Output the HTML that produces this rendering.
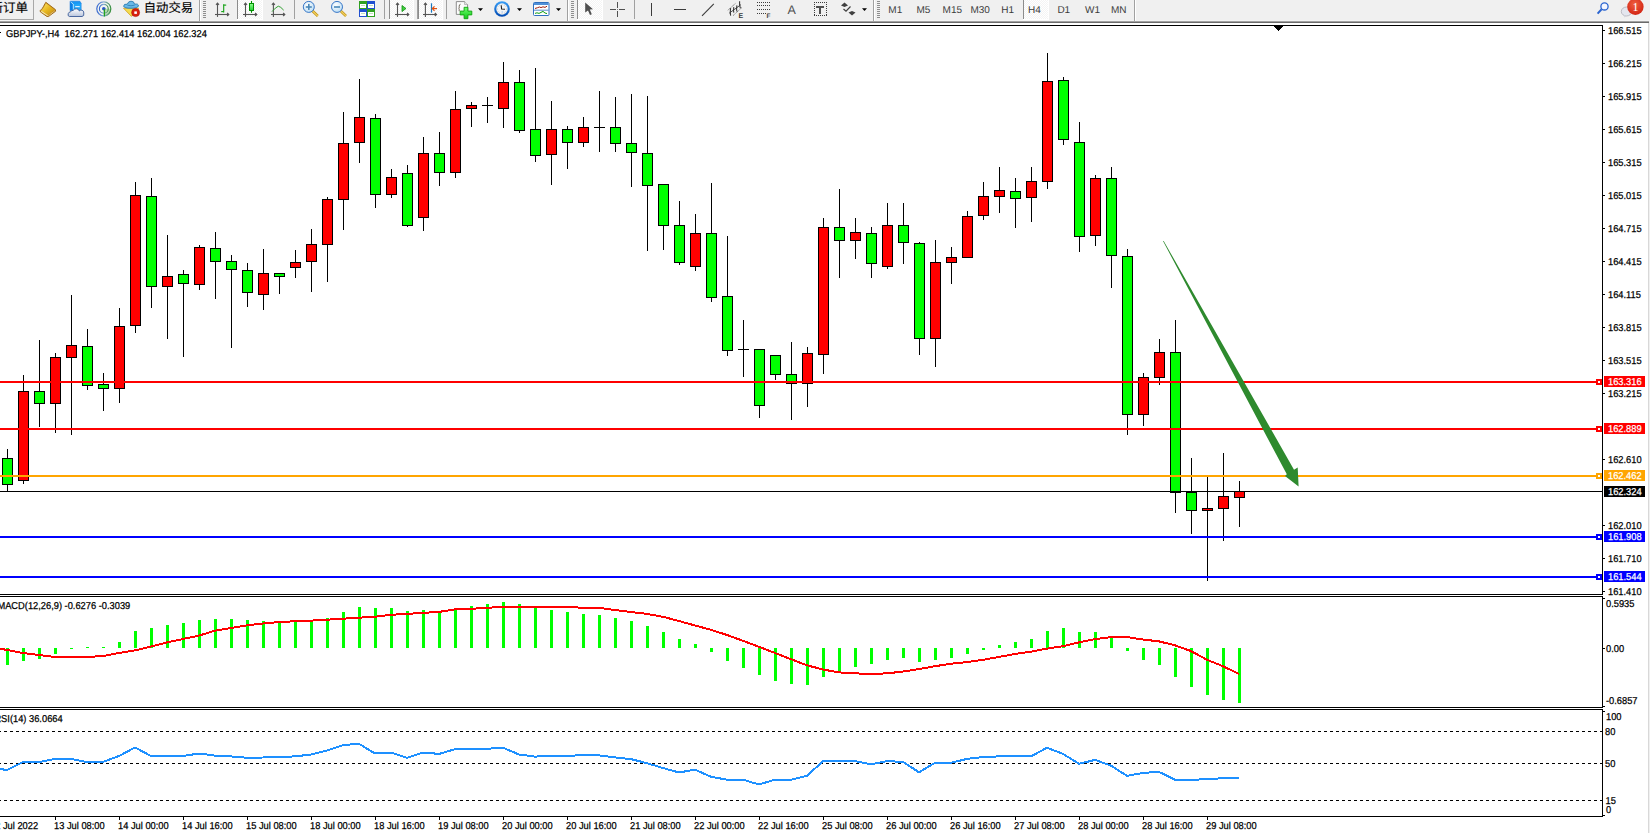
<!DOCTYPE html>
<html><head><meta charset="utf-8"><title>GBPJPY H4</title>
<style>
html,body{margin:0;padding:0;width:1650px;height:833px;overflow:hidden;background:#fff;}
svg{display:block;}
text{font-family:"Liberation Sans", "Noto Sans CJK SC", sans-serif;text-rendering:geometricPrecision;}
</style></head>
<body>
<svg width="1650" height="833" viewBox="0 0 1650 833" shape-rendering="crispEdges">
<rect x="0" y="0" width="1650" height="833" fill="#ffffff"/>
<rect x="0" y="0" width="1650" height="21" fill="#f0f0f0"/>
<rect x="0" y="20" width="1650" height="1" fill="#f4f4f4"/>
<rect x="0" y="21" width="1650" height="1" fill="#a2a2a2"/>
<rect x="0" y="22" width="1650" height="1" fill="#6b6b6b"/>
<rect x="1648" y="23" width="1" height="810" fill="#d8d8d8"/>
<rect x="1649" y="21" width="1" height="812" fill="#f0f0f0"/>
<rect x="0" y="25" width="1603" height="1" fill="#000"/>
<rect x="0" y="594" width="1603" height="1" fill="#000"/>
<rect x="1602" y="25" width="1" height="570" fill="#000"/>
<rect x="0" y="596" width="1603" height="1" fill="#000"/>
<rect x="0" y="707" width="1603" height="1" fill="#000"/>
<rect x="1602" y="596" width="1" height="112" fill="#000"/>
<rect x="0" y="709" width="1603" height="1" fill="#000"/>
<rect x="0" y="816" width="1603" height="1" fill="#000"/>
<rect x="1602" y="709" width="1" height="108" fill="#000"/>
<rect x="1603" y="30" width="2" height="1" fill="#000"/>
<text transform="translate(1608,34) scale(0.93,1)" fill="#000" stroke="#000" stroke-width="0.25" font-size="10">166.515</text>
<rect x="1603" y="63" width="2" height="1" fill="#000"/>
<text transform="translate(1608,67) scale(0.93,1)" fill="#000" stroke="#000" stroke-width="0.25" font-size="10">166.215</text>
<rect x="1603" y="96" width="2" height="1" fill="#000"/>
<text transform="translate(1608,100) scale(0.93,1)" fill="#000" stroke="#000" stroke-width="0.25" font-size="10">165.915</text>
<rect x="1603" y="129" width="2" height="1" fill="#000"/>
<text transform="translate(1608,133) scale(0.93,1)" fill="#000" stroke="#000" stroke-width="0.25" font-size="10">165.615</text>
<rect x="1603" y="162" width="2" height="1" fill="#000"/>
<text transform="translate(1608,166) scale(0.93,1)" fill="#000" stroke="#000" stroke-width="0.25" font-size="10">165.315</text>
<rect x="1603" y="195" width="2" height="1" fill="#000"/>
<text transform="translate(1608,199) scale(0.93,1)" fill="#000" stroke="#000" stroke-width="0.25" font-size="10">165.015</text>
<rect x="1603" y="228" width="2" height="1" fill="#000"/>
<text transform="translate(1608,232) scale(0.93,1)" fill="#000" stroke="#000" stroke-width="0.25" font-size="10">164.715</text>
<rect x="1603" y="261" width="2" height="1" fill="#000"/>
<text transform="translate(1608,265) scale(0.93,1)" fill="#000" stroke="#000" stroke-width="0.25" font-size="10">164.415</text>
<rect x="1603" y="294" width="2" height="1" fill="#000"/>
<text transform="translate(1608,298) scale(0.93,1)" fill="#000" stroke="#000" stroke-width="0.25" font-size="10">164.115</text>
<rect x="1603" y="327" width="2" height="1" fill="#000"/>
<text transform="translate(1608,331) scale(0.93,1)" fill="#000" stroke="#000" stroke-width="0.25" font-size="10">163.815</text>
<rect x="1603" y="360" width="2" height="1" fill="#000"/>
<text transform="translate(1608,364) scale(0.93,1)" fill="#000" stroke="#000" stroke-width="0.25" font-size="10">163.515</text>
<rect x="1603" y="393" width="2" height="1" fill="#000"/>
<text transform="translate(1608,397) scale(0.93,1)" fill="#000" stroke="#000" stroke-width="0.25" font-size="10">163.215</text>
<rect x="1603" y="459" width="2" height="1" fill="#000"/>
<text transform="translate(1608,463) scale(0.93,1)" fill="#000" stroke="#000" stroke-width="0.25" font-size="10">162.610</text>
<rect x="1603" y="525" width="2" height="1" fill="#000"/>
<text transform="translate(1608,529) scale(0.93,1)" fill="#000" stroke="#000" stroke-width="0.25" font-size="10">162.010</text>
<rect x="1603" y="558" width="2" height="1" fill="#000"/>
<text transform="translate(1608,562) scale(0.93,1)" fill="#000" stroke="#000" stroke-width="0.25" font-size="10">161.710</text>
<rect x="1603" y="591" width="2" height="1" fill="#000"/>
<text transform="translate(1608,595) scale(0.93,1)" fill="#000" stroke="#000" stroke-width="0.25" font-size="10">161.410</text>
<rect x="7" y="449" width="1" height="42" fill="#000"/>
<rect x="2" y="458" width="11" height="27" fill="#000"/>
<rect x="3" y="459" width="9" height="25" fill="#00ff00"/>
<rect x="23" y="375" width="1" height="109" fill="#000"/>
<rect x="18" y="391" width="11" height="90" fill="#000"/>
<rect x="19" y="392" width="9" height="88" fill="#ff0000"/>
<rect x="39" y="340" width="1" height="87" fill="#000"/>
<rect x="34" y="391" width="11" height="13" fill="#000"/>
<rect x="35" y="392" width="9" height="11" fill="#00ff00"/>
<rect x="55" y="353" width="1" height="80" fill="#000"/>
<rect x="50" y="357" width="11" height="47" fill="#000"/>
<rect x="51" y="358" width="9" height="45" fill="#ff0000"/>
<rect x="71" y="295" width="1" height="140" fill="#000"/>
<rect x="66" y="345" width="11" height="13" fill="#000"/>
<rect x="67" y="346" width="9" height="11" fill="#ff0000"/>
<rect x="87" y="329" width="1" height="61" fill="#000"/>
<rect x="82" y="346" width="11" height="40" fill="#000"/>
<rect x="83" y="347" width="9" height="38" fill="#00ff00"/>
<rect x="103" y="373" width="1" height="38" fill="#000"/>
<rect x="98" y="384" width="11" height="5" fill="#000"/>
<rect x="99" y="385" width="9" height="3" fill="#00ff00"/>
<rect x="119" y="308" width="1" height="95" fill="#000"/>
<rect x="114" y="326" width="11" height="63" fill="#000"/>
<rect x="115" y="327" width="9" height="61" fill="#ff0000"/>
<rect x="135" y="182" width="1" height="151" fill="#000"/>
<rect x="130" y="195" width="11" height="131" fill="#000"/>
<rect x="131" y="196" width="9" height="129" fill="#ff0000"/>
<rect x="151" y="178" width="1" height="130" fill="#000"/>
<rect x="146" y="196" width="11" height="91" fill="#000"/>
<rect x="147" y="197" width="9" height="89" fill="#00ff00"/>
<rect x="167" y="235" width="1" height="104" fill="#000"/>
<rect x="162" y="276" width="11" height="11" fill="#000"/>
<rect x="163" y="277" width="9" height="9" fill="#ff0000"/>
<rect x="183" y="270" width="1" height="87" fill="#000"/>
<rect x="178" y="274" width="11" height="10" fill="#000"/>
<rect x="179" y="275" width="9" height="8" fill="#00ff00"/>
<rect x="199" y="245" width="1" height="45" fill="#000"/>
<rect x="194" y="247" width="11" height="38" fill="#000"/>
<rect x="195" y="248" width="9" height="36" fill="#ff0000"/>
<rect x="215" y="232" width="1" height="67" fill="#000"/>
<rect x="210" y="248" width="11" height="14" fill="#000"/>
<rect x="211" y="249" width="9" height="12" fill="#00ff00"/>
<rect x="231" y="255" width="1" height="93" fill="#000"/>
<rect x="226" y="261" width="11" height="9" fill="#000"/>
<rect x="227" y="262" width="9" height="7" fill="#00ff00"/>
<rect x="247" y="263" width="1" height="44" fill="#000"/>
<rect x="242" y="270" width="11" height="23" fill="#000"/>
<rect x="243" y="271" width="9" height="21" fill="#00ff00"/>
<rect x="263" y="249" width="1" height="61" fill="#000"/>
<rect x="258" y="273" width="11" height="22" fill="#000"/>
<rect x="259" y="274" width="9" height="20" fill="#ff0000"/>
<rect x="279" y="273" width="1" height="21" fill="#000"/>
<rect x="274" y="273" width="11" height="4" fill="#000"/>
<rect x="275" y="274" width="9" height="2" fill="#00ff00"/>
<rect x="295" y="250" width="1" height="28" fill="#000"/>
<rect x="290" y="262" width="11" height="6" fill="#000"/>
<rect x="291" y="263" width="9" height="4" fill="#ff0000"/>
<rect x="311" y="229" width="1" height="63" fill="#000"/>
<rect x="306" y="244" width="11" height="18" fill="#000"/>
<rect x="307" y="245" width="9" height="16" fill="#ff0000"/>
<rect x="327" y="197" width="1" height="85" fill="#000"/>
<rect x="322" y="199" width="11" height="46" fill="#000"/>
<rect x="323" y="200" width="9" height="44" fill="#ff0000"/>
<rect x="343" y="112" width="1" height="118" fill="#000"/>
<rect x="338" y="143" width="11" height="57" fill="#000"/>
<rect x="339" y="144" width="9" height="55" fill="#ff0000"/>
<rect x="359" y="79" width="1" height="84" fill="#000"/>
<rect x="354" y="117" width="11" height="26" fill="#000"/>
<rect x="355" y="118" width="9" height="24" fill="#ff0000"/>
<rect x="375" y="114" width="1" height="94" fill="#000"/>
<rect x="370" y="118" width="11" height="77" fill="#000"/>
<rect x="371" y="119" width="9" height="75" fill="#00ff00"/>
<rect x="391" y="169" width="1" height="29" fill="#000"/>
<rect x="386" y="177" width="11" height="18" fill="#000"/>
<rect x="387" y="178" width="9" height="16" fill="#ff0000"/>
<rect x="407" y="165" width="1" height="62" fill="#000"/>
<rect x="402" y="173" width="11" height="53" fill="#000"/>
<rect x="403" y="174" width="9" height="51" fill="#00ff00"/>
<rect x="423" y="137" width="1" height="94" fill="#000"/>
<rect x="418" y="153" width="11" height="65" fill="#000"/>
<rect x="419" y="154" width="9" height="63" fill="#ff0000"/>
<rect x="439" y="132" width="1" height="54" fill="#000"/>
<rect x="434" y="153" width="11" height="20" fill="#000"/>
<rect x="435" y="154" width="9" height="18" fill="#00ff00"/>
<rect x="455" y="91" width="1" height="87" fill="#000"/>
<rect x="450" y="109" width="11" height="64" fill="#000"/>
<rect x="451" y="110" width="9" height="62" fill="#ff0000"/>
<rect x="471" y="102" width="1" height="25" fill="#000"/>
<rect x="466" y="105" width="11" height="4" fill="#000"/>
<rect x="467" y="106" width="9" height="2" fill="#ff0000"/>
<rect x="487" y="97" width="1" height="26" fill="#000"/>
<rect x="482" y="105" width="11" height="1" fill="#000"/>
<rect x="503" y="62" width="1" height="66" fill="#000"/>
<rect x="498" y="82" width="11" height="27" fill="#000"/>
<rect x="499" y="83" width="9" height="25" fill="#ff0000"/>
<rect x="519" y="70" width="1" height="63" fill="#000"/>
<rect x="514" y="82" width="11" height="49" fill="#000"/>
<rect x="515" y="83" width="9" height="47" fill="#00ff00"/>
<rect x="535" y="68" width="1" height="94" fill="#000"/>
<rect x="530" y="129" width="11" height="27" fill="#000"/>
<rect x="531" y="130" width="9" height="25" fill="#00ff00"/>
<rect x="551" y="101" width="1" height="84" fill="#000"/>
<rect x="546" y="129" width="11" height="26" fill="#000"/>
<rect x="547" y="130" width="9" height="24" fill="#ff0000"/>
<rect x="567" y="126" width="1" height="43" fill="#000"/>
<rect x="562" y="129" width="11" height="14" fill="#000"/>
<rect x="563" y="130" width="9" height="12" fill="#00ff00"/>
<rect x="583" y="117" width="1" height="30" fill="#000"/>
<rect x="578" y="127" width="11" height="16" fill="#000"/>
<rect x="579" y="128" width="9" height="14" fill="#ff0000"/>
<rect x="599" y="91" width="1" height="61" fill="#000"/>
<rect x="594" y="127" width="11" height="1" fill="#000"/>
<rect x="615" y="97" width="1" height="55" fill="#000"/>
<rect x="610" y="127" width="11" height="17" fill="#000"/>
<rect x="611" y="128" width="9" height="15" fill="#00ff00"/>
<rect x="631" y="94" width="1" height="93" fill="#000"/>
<rect x="626" y="143" width="11" height="10" fill="#000"/>
<rect x="627" y="144" width="9" height="8" fill="#00ff00"/>
<rect x="647" y="96" width="1" height="155" fill="#000"/>
<rect x="642" y="153" width="11" height="33" fill="#000"/>
<rect x="643" y="154" width="9" height="31" fill="#00ff00"/>
<rect x="663" y="184" width="1" height="66" fill="#000"/>
<rect x="658" y="184" width="11" height="42" fill="#000"/>
<rect x="659" y="185" width="9" height="40" fill="#00ff00"/>
<rect x="679" y="201" width="1" height="64" fill="#000"/>
<rect x="674" y="225" width="11" height="38" fill="#000"/>
<rect x="675" y="226" width="9" height="36" fill="#00ff00"/>
<rect x="695" y="214" width="1" height="57" fill="#000"/>
<rect x="690" y="233" width="11" height="34" fill="#000"/>
<rect x="691" y="234" width="9" height="32" fill="#ff0000"/>
<rect x="711" y="183" width="1" height="119" fill="#000"/>
<rect x="706" y="233" width="11" height="65" fill="#000"/>
<rect x="707" y="234" width="9" height="63" fill="#00ff00"/>
<rect x="727" y="236" width="1" height="120" fill="#000"/>
<rect x="722" y="296" width="11" height="55" fill="#000"/>
<rect x="723" y="297" width="9" height="53" fill="#00ff00"/>
<rect x="743" y="320" width="1" height="57" fill="#000"/>
<rect x="738" y="349" width="11" height="1" fill="#000"/>
<rect x="759" y="349" width="1" height="69" fill="#000"/>
<rect x="754" y="349" width="11" height="57" fill="#000"/>
<rect x="755" y="350" width="9" height="55" fill="#00ff00"/>
<rect x="775" y="355" width="1" height="25" fill="#000"/>
<rect x="770" y="355" width="11" height="20" fill="#000"/>
<rect x="771" y="356" width="9" height="18" fill="#00ff00"/>
<rect x="791" y="342" width="1" height="78" fill="#000"/>
<rect x="786" y="374" width="11" height="10" fill="#000"/>
<rect x="787" y="375" width="9" height="8" fill="#00ff00"/>
<rect x="807" y="347" width="1" height="60" fill="#000"/>
<rect x="802" y="353" width="11" height="31" fill="#000"/>
<rect x="803" y="354" width="9" height="29" fill="#ff0000"/>
<rect x="823" y="218" width="1" height="156" fill="#000"/>
<rect x="818" y="227" width="11" height="128" fill="#000"/>
<rect x="819" y="228" width="9" height="126" fill="#ff0000"/>
<rect x="839" y="189" width="1" height="89" fill="#000"/>
<rect x="834" y="227" width="11" height="14" fill="#000"/>
<rect x="835" y="228" width="9" height="12" fill="#00ff00"/>
<rect x="855" y="218" width="1" height="41" fill="#000"/>
<rect x="850" y="232" width="11" height="9" fill="#000"/>
<rect x="851" y="233" width="9" height="7" fill="#ff0000"/>
<rect x="871" y="227" width="1" height="51" fill="#000"/>
<rect x="866" y="233" width="11" height="31" fill="#000"/>
<rect x="867" y="234" width="9" height="29" fill="#00ff00"/>
<rect x="887" y="203" width="1" height="66" fill="#000"/>
<rect x="882" y="225" width="11" height="42" fill="#000"/>
<rect x="883" y="226" width="9" height="40" fill="#ff0000"/>
<rect x="903" y="203" width="1" height="61" fill="#000"/>
<rect x="898" y="225" width="11" height="18" fill="#000"/>
<rect x="899" y="226" width="9" height="16" fill="#00ff00"/>
<rect x="919" y="242" width="1" height="113" fill="#000"/>
<rect x="914" y="243" width="11" height="96" fill="#000"/>
<rect x="915" y="244" width="9" height="94" fill="#00ff00"/>
<rect x="935" y="240" width="1" height="127" fill="#000"/>
<rect x="930" y="262" width="11" height="77" fill="#000"/>
<rect x="931" y="263" width="9" height="75" fill="#ff0000"/>
<rect x="951" y="247" width="1" height="37" fill="#000"/>
<rect x="946" y="257" width="11" height="6" fill="#000"/>
<rect x="947" y="258" width="9" height="4" fill="#ff0000"/>
<rect x="967" y="211" width="1" height="46" fill="#000"/>
<rect x="962" y="216" width="11" height="42" fill="#000"/>
<rect x="963" y="217" width="9" height="40" fill="#ff0000"/>
<rect x="983" y="182" width="1" height="38" fill="#000"/>
<rect x="978" y="196" width="11" height="20" fill="#000"/>
<rect x="979" y="197" width="9" height="18" fill="#ff0000"/>
<rect x="999" y="167" width="1" height="46" fill="#000"/>
<rect x="994" y="190" width="11" height="7" fill="#000"/>
<rect x="995" y="191" width="9" height="5" fill="#ff0000"/>
<rect x="1015" y="178" width="1" height="50" fill="#000"/>
<rect x="1010" y="191" width="11" height="8" fill="#000"/>
<rect x="1011" y="192" width="9" height="6" fill="#00ff00"/>
<rect x="1031" y="167" width="1" height="55" fill="#000"/>
<rect x="1026" y="181" width="11" height="17" fill="#000"/>
<rect x="1027" y="182" width="9" height="15" fill="#ff0000"/>
<rect x="1047" y="53" width="1" height="136" fill="#000"/>
<rect x="1042" y="81" width="11" height="101" fill="#000"/>
<rect x="1043" y="82" width="9" height="99" fill="#ff0000"/>
<rect x="1063" y="77" width="1" height="68" fill="#000"/>
<rect x="1058" y="80" width="11" height="60" fill="#000"/>
<rect x="1059" y="81" width="9" height="58" fill="#00ff00"/>
<rect x="1079" y="122" width="1" height="130" fill="#000"/>
<rect x="1074" y="142" width="11" height="95" fill="#000"/>
<rect x="1075" y="143" width="9" height="93" fill="#00ff00"/>
<rect x="1095" y="175" width="1" height="71" fill="#000"/>
<rect x="1090" y="178" width="11" height="58" fill="#000"/>
<rect x="1091" y="179" width="9" height="56" fill="#ff0000"/>
<rect x="1111" y="167" width="1" height="121" fill="#000"/>
<rect x="1106" y="178" width="11" height="78" fill="#000"/>
<rect x="1107" y="179" width="9" height="76" fill="#00ff00"/>
<rect x="1127" y="249" width="1" height="186" fill="#000"/>
<rect x="1122" y="256" width="11" height="159" fill="#000"/>
<rect x="1123" y="257" width="9" height="157" fill="#00ff00"/>
<rect x="1143" y="373" width="1" height="53" fill="#000"/>
<rect x="1138" y="377" width="11" height="38" fill="#000"/>
<rect x="1139" y="378" width="9" height="36" fill="#ff0000"/>
<rect x="1159" y="339" width="1" height="46" fill="#000"/>
<rect x="1154" y="352" width="11" height="26" fill="#000"/>
<rect x="1155" y="353" width="9" height="24" fill="#ff0000"/>
<rect x="1175" y="320" width="1" height="193" fill="#000"/>
<rect x="1170" y="352" width="11" height="141" fill="#000"/>
<rect x="1171" y="353" width="9" height="139" fill="#00ff00"/>
<rect x="1191" y="458" width="1" height="76" fill="#000"/>
<rect x="1186" y="492" width="11" height="19" fill="#000"/>
<rect x="1187" y="493" width="9" height="17" fill="#00ff00"/>
<rect x="1207" y="477" width="1" height="104" fill="#000"/>
<rect x="1202" y="508" width="11" height="3" fill="#000"/>
<rect x="1203" y="509" width="9" height="1" fill="#ff0000"/>
<rect x="1223" y="453" width="1" height="88" fill="#000"/>
<rect x="1218" y="496" width="11" height="13" fill="#000"/>
<rect x="1219" y="497" width="9" height="11" fill="#ff0000"/>
<rect x="1239" y="481" width="1" height="46" fill="#000"/>
<rect x="1234" y="491" width="11" height="7" fill="#000"/>
<rect x="1235" y="492" width="9" height="5" fill="#ff0000"/>
<rect x="0" y="491" width="1602" height="1" fill="#000"/>
<rect x="0" y="381" width="1602" height="2" fill="#ff0000"/>
<rect x="1596" y="379" width="6" height="6" fill="#ff0000"/>
<rect x="1598" y="381" width="2" height="2" fill="#fff"/>
<rect x="1604" y="376" width="41" height="11" fill="#ff0000"/>
<text transform="translate(1608,385) scale(0.93,1)" fill="#fff" stroke="#fff" stroke-width="0.25" font-size="10">163.316</text>
<rect x="0" y="428" width="1602" height="2" fill="#ff0000"/>
<rect x="1596" y="426" width="6" height="6" fill="#ff0000"/>
<rect x="1598" y="428" width="2" height="2" fill="#fff"/>
<rect x="1604" y="423" width="41" height="11" fill="#ff0000"/>
<text transform="translate(1608,432) scale(0.93,1)" fill="#fff" stroke="#fff" stroke-width="0.25" font-size="10">162.889</text>
<rect x="0" y="475" width="1602" height="2" fill="#ffa500"/>
<rect x="1596" y="473" width="6" height="6" fill="#ffa500"/>
<rect x="1598" y="475" width="2" height="2" fill="#fff"/>
<rect x="1604" y="470" width="41" height="11" fill="#ffa500"/>
<text transform="translate(1608,479) scale(0.93,1)" fill="#fff" stroke="#fff" stroke-width="0.25" font-size="10">162.462</text>
<rect x="0" y="536" width="1602" height="2" fill="#0000ff"/>
<rect x="1596" y="534" width="6" height="6" fill="#0000ff"/>
<rect x="1598" y="536" width="2" height="2" fill="#fff"/>
<rect x="1604" y="531" width="41" height="11" fill="#0000ff"/>
<text transform="translate(1608,540) scale(0.93,1)" fill="#fff" stroke="#fff" stroke-width="0.25" font-size="10">161.908</text>
<rect x="0" y="576" width="1602" height="2" fill="#0000ff"/>
<rect x="1596" y="574" width="6" height="6" fill="#0000ff"/>
<rect x="1598" y="576" width="2" height="2" fill="#fff"/>
<rect x="1604" y="571" width="41" height="11" fill="#0000ff"/>
<text transform="translate(1608,580) scale(0.93,1)" fill="#fff" stroke="#fff" stroke-width="0.25" font-size="10">161.544</text>
<rect x="1604" y="486" width="41" height="11" fill="#000"/>
<text transform="translate(1608,495) scale(0.93,1)" fill="#fff" stroke="#fff" stroke-width="0.25" font-size="10">162.324</text>
<polygon points="1163.0,241 1163.7,241 1294,469.7 1297.7,467.5 1298.6,486.5 1285,476 1286.8,474.3" fill="#2e8a2e" shape-rendering="auto"/>
<rect x="1274" y="26" width="9" height="1" fill="#000"/>
<rect x="1275" y="27" width="7" height="1" fill="#000"/>
<rect x="1276" y="28" width="5" height="1" fill="#000"/>
<rect x="1277" y="29" width="3" height="1" fill="#000"/>
<rect x="1278" y="30" width="1" height="1" fill="#000"/>
<rect x="0" y="32" width="1" height="1" fill="#000"/>
<text transform="translate(6,37) scale(0.93,1)" fill="#000" stroke="#000" stroke-width="0.25" font-size="10">GBPJPY-,H4&#160;&#160;162.271 162.414 162.004 162.324</text>
<rect x="6" y="648" width="3" height="17" fill="#00ff00"/>
<rect x="22" y="648" width="3" height="13" fill="#00ff00"/>
<rect x="38" y="648" width="3" height="11" fill="#00ff00"/>
<rect x="54" y="648" width="3" height="6" fill="#00ff00"/>
<rect x="70" y="648" width="3" height="1" fill="#00ff00"/>
<rect x="86" y="647" width="3" height="1" fill="#00ff00"/>
<rect x="102" y="647" width="3" height="1" fill="#00ff00"/>
<rect x="118" y="642" width="3" height="6" fill="#00ff00"/>
<rect x="134" y="631" width="3" height="17" fill="#00ff00"/>
<rect x="150" y="628" width="3" height="20" fill="#00ff00"/>
<rect x="166" y="625" width="3" height="23" fill="#00ff00"/>
<rect x="182" y="623" width="3" height="25" fill="#00ff00"/>
<rect x="198" y="620" width="3" height="28" fill="#00ff00"/>
<rect x="214" y="619" width="3" height="29" fill="#00ff00"/>
<rect x="230" y="619" width="3" height="29" fill="#00ff00"/>
<rect x="246" y="620" width="3" height="28" fill="#00ff00"/>
<rect x="262" y="621" width="3" height="27" fill="#00ff00"/>
<rect x="278" y="622" width="3" height="26" fill="#00ff00"/>
<rect x="294" y="622" width="3" height="26" fill="#00ff00"/>
<rect x="310" y="621" width="3" height="27" fill="#00ff00"/>
<rect x="326" y="618" width="3" height="30" fill="#00ff00"/>
<rect x="342" y="612" width="3" height="36" fill="#00ff00"/>
<rect x="358" y="607" width="3" height="41" fill="#00ff00"/>
<rect x="374" y="608" width="3" height="40" fill="#00ff00"/>
<rect x="390" y="608" width="3" height="40" fill="#00ff00"/>
<rect x="406" y="611" width="3" height="37" fill="#00ff00"/>
<rect x="422" y="610" width="3" height="38" fill="#00ff00"/>
<rect x="438" y="611" width="3" height="37" fill="#00ff00"/>
<rect x="454" y="608" width="3" height="40" fill="#00ff00"/>
<rect x="470" y="606" width="3" height="42" fill="#00ff00"/>
<rect x="486" y="604" width="3" height="44" fill="#00ff00"/>
<rect x="502" y="602" width="3" height="46" fill="#00ff00"/>
<rect x="518" y="604" width="3" height="44" fill="#00ff00"/>
<rect x="534" y="607" width="3" height="41" fill="#00ff00"/>
<rect x="550" y="610" width="3" height="38" fill="#00ff00"/>
<rect x="566" y="612" width="3" height="36" fill="#00ff00"/>
<rect x="582" y="614" width="3" height="34" fill="#00ff00"/>
<rect x="598" y="615" width="3" height="33" fill="#00ff00"/>
<rect x="614" y="618" width="3" height="30" fill="#00ff00"/>
<rect x="630" y="621" width="3" height="27" fill="#00ff00"/>
<rect x="646" y="626" width="3" height="22" fill="#00ff00"/>
<rect x="662" y="632" width="3" height="16" fill="#00ff00"/>
<rect x="678" y="639" width="3" height="9" fill="#00ff00"/>
<rect x="694" y="644" width="3" height="4" fill="#00ff00"/>
<rect x="710" y="648" width="3" height="4" fill="#00ff00"/>
<rect x="726" y="648" width="3" height="13" fill="#00ff00"/>
<rect x="742" y="648" width="3" height="20" fill="#00ff00"/>
<rect x="758" y="648" width="3" height="27" fill="#00ff00"/>
<rect x="774" y="648" width="3" height="33" fill="#00ff00"/>
<rect x="790" y="648" width="3" height="36" fill="#00ff00"/>
<rect x="806" y="648" width="3" height="37" fill="#00ff00"/>
<rect x="822" y="648" width="3" height="29" fill="#00ff00"/>
<rect x="838" y="648" width="3" height="24" fill="#00ff00"/>
<rect x="854" y="648" width="3" height="19" fill="#00ff00"/>
<rect x="870" y="648" width="3" height="16" fill="#00ff00"/>
<rect x="886" y="648" width="3" height="12" fill="#00ff00"/>
<rect x="902" y="648" width="3" height="10" fill="#00ff00"/>
<rect x="918" y="648" width="3" height="14" fill="#00ff00"/>
<rect x="934" y="648" width="3" height="12" fill="#00ff00"/>
<rect x="950" y="648" width="3" height="10" fill="#00ff00"/>
<rect x="966" y="648" width="3" height="6" fill="#00ff00"/>
<rect x="982" y="648" width="3" height="2" fill="#00ff00"/>
<rect x="998" y="645" width="3" height="3" fill="#00ff00"/>
<rect x="1014" y="642" width="3" height="6" fill="#00ff00"/>
<rect x="1030" y="639" width="3" height="9" fill="#00ff00"/>
<rect x="1046" y="631" width="3" height="17" fill="#00ff00"/>
<rect x="1062" y="628" width="3" height="20" fill="#00ff00"/>
<rect x="1078" y="632" width="3" height="16" fill="#00ff00"/>
<rect x="1094" y="632" width="3" height="16" fill="#00ff00"/>
<rect x="1110" y="638" width="3" height="10" fill="#00ff00"/>
<rect x="1126" y="648" width="3" height="3" fill="#00ff00"/>
<rect x="1142" y="648" width="3" height="12" fill="#00ff00"/>
<rect x="1158" y="648" width="3" height="17" fill="#00ff00"/>
<rect x="1174" y="648" width="3" height="29" fill="#00ff00"/>
<rect x="1190" y="648" width="3" height="39" fill="#00ff00"/>
<rect x="1206" y="648" width="3" height="47" fill="#00ff00"/>
<rect x="1222" y="648" width="3" height="52" fill="#00ff00"/>
<rect x="1238" y="648" width="3" height="55" fill="#00ff00"/>
<polyline points="0,648.6 7,650 23,653 39,655 55,657 71,657 87,657 103,656 119,653 135,650.4 151,646.5 167,642.4 183,639 199,635.6 215,630.7 231,628 247,625.3 263,623.5 279,622 295,621.3 311,620.6 327,619.7 343,618.7 359,617.7 375,616.8 391,614.8 407,613.9 423,612.9 439,611.9 455,609.4 471,608.8 487,607.8 503,606.9 519,606.9 535,606.9 551,606.9 567,606.9 583,607.8 599,607.8 615,610 631,612 647,613.9 663,616.8 679,621 695,625.5 711,629.8 727,635 743,640.8 759,646.8 775,653 791,659.2 807,665.3 823,669.5 839,672.4 855,673.4 871,673.8 887,673.4 903,671.5 919,669.1 935,666.2 951,663.7 967,662.1 983,659.8 999,656.9 1015,654 1031,651.7 1047,648.6 1063,646.2 1079,642.4 1095,639.1 1111,637.1 1127,637.1 1143,639.5 1159,641.4 1175,645.3 1191,651.1 1207,659.8 1223,666.2 1239,674" fill="none" stroke="#ff0000" stroke-width="2" stroke-linejoin="round"/>
<text transform="translate(-2.6,609) scale(0.93,1)" fill="#000" stroke="#000" stroke-width="0.25" font-size="10">MACD(12,26,9) -0.6276 -0.3039</text>
<rect x="1603" y="598" width="2" height="1" fill="#000"/>
<rect x="1603" y="648" width="2" height="1" fill="#000"/>
<rect x="1603" y="706" width="2" height="1" fill="#000"/>
<text transform="translate(1606,606.5) scale(0.93,1)" fill="#000" stroke="#000" stroke-width="0.25" font-size="10">0.5935</text>
<text transform="translate(1606,651.5) scale(0.93,1)" fill="#000" stroke="#000" stroke-width="0.25" font-size="10">0.00</text>
<text transform="translate(1606,703.5) scale(0.93,1)" fill="#000" stroke="#000" stroke-width="0.25" font-size="10">-0.6857</text>
<line x1="0" y1="731.5" x2="1602" y2="731.5" stroke="#000" stroke-width="1" stroke-dasharray="3,3" stroke-dashoffset="2"/>
<line x1="0" y1="763.5" x2="1602" y2="763.5" stroke="#000" stroke-width="1" stroke-dasharray="3,3" stroke-dashoffset="2"/>
<line x1="0" y1="800.5" x2="1602" y2="800.5" stroke="#000" stroke-width="1" stroke-dasharray="3,3" stroke-dashoffset="2"/>
<polyline points="0,769 7,770 23,762 39,762 55,759 71,759 87,762 103,762 119,756 135,747.5 151,756 167,756 183,756 199,753.5 215,755.6 231,756.4 247,757.8 263,757.5 279,757 295,756.4 311,754.5 327,750.6 343,745.1 359,743.8 375,753.5 391,752.5 407,757.8 423,752.5 439,753.9 455,749.2 471,748.8 487,748.8 503,747.7 519,754.5 535,756.6 551,756 567,756 583,755 599,755.4 615,757.4 631,759.1 647,763.2 663,768 679,772.5 695,769.6 711,776.8 727,779.7 743,779.7 759,784.5 775,779.7 791,779.7 807,775.8 823,761.2 839,761.2 855,761.2 871,764.2 887,761.2 903,761.8 919,772.3 935,762.8 951,762.8 967,758.9 983,757 999,756.4 1015,756.4 1031,756.4 1047,747.7 1063,753.9 1079,763.8 1095,759.9 1111,765.7 1127,775.8 1143,772.9 1159,771.9 1175,779.7 1191,779.7 1207,779.3 1223,778.1 1239,777.7" fill="none" stroke="#1e90ff" stroke-width="2" stroke-linejoin="round"/>
<text transform="translate(-5.6,722) scale(0.93,1)" fill="#000" stroke="#000" stroke-width="0.25" font-size="10">RSI(14) 36.0664</text>
<rect x="1603" y="711" width="2" height="1" fill="#000"/>
<rect x="1603" y="815" width="2" height="1" fill="#000"/>
<text transform="translate(1606,720.3) scale(0.93,1)" fill="#000" stroke="#000" stroke-width="0.25" font-size="10">100</text>
<text transform="translate(1605,734.6) scale(0.93,1)" fill="#000" stroke="#000" stroke-width="0.25" font-size="10">80</text>
<text transform="translate(1605,767.2) scale(0.93,1)" fill="#000" stroke="#000" stroke-width="0.25" font-size="10">50</text>
<text transform="translate(1605.5,803.6) scale(0.93,1)" fill="#000" stroke="#000" stroke-width="0.25" font-size="10">15</text>
<text transform="translate(1606,813.2) scale(0.93,1)" fill="#000" stroke="#000" stroke-width="0.25" font-size="10">0</text>
<text transform="translate(-10,829) scale(0.93,1)" fill="#000" stroke="#000" stroke-width="0.25" font-size="10">12 Jul 2022</text>
<rect x="55" y="817" width="1" height="3" fill="#000"/>
<text transform="translate(54,829) scale(0.93,1)" fill="#000" stroke="#000" stroke-width="0.25" font-size="10">13 Jul 08:00</text>
<rect x="119" y="817" width="1" height="3" fill="#000"/>
<text transform="translate(118,829) scale(0.93,1)" fill="#000" stroke="#000" stroke-width="0.25" font-size="10">14 Jul 00:00</text>
<rect x="183" y="817" width="1" height="3" fill="#000"/>
<text transform="translate(182,829) scale(0.93,1)" fill="#000" stroke="#000" stroke-width="0.25" font-size="10">14 Jul 16:00</text>
<rect x="247" y="817" width="1" height="3" fill="#000"/>
<text transform="translate(246,829) scale(0.93,1)" fill="#000" stroke="#000" stroke-width="0.25" font-size="10">15 Jul 08:00</text>
<rect x="311" y="817" width="1" height="3" fill="#000"/>
<text transform="translate(310,829) scale(0.93,1)" fill="#000" stroke="#000" stroke-width="0.25" font-size="10">18 Jul 00:00</text>
<rect x="375" y="817" width="1" height="3" fill="#000"/>
<text transform="translate(374,829) scale(0.93,1)" fill="#000" stroke="#000" stroke-width="0.25" font-size="10">18 Jul 16:00</text>
<rect x="439" y="817" width="1" height="3" fill="#000"/>
<text transform="translate(438,829) scale(0.93,1)" fill="#000" stroke="#000" stroke-width="0.25" font-size="10">19 Jul 08:00</text>
<rect x="503" y="817" width="1" height="3" fill="#000"/>
<text transform="translate(502,829) scale(0.93,1)" fill="#000" stroke="#000" stroke-width="0.25" font-size="10">20 Jul 00:00</text>
<rect x="567" y="817" width="1" height="3" fill="#000"/>
<text transform="translate(566,829) scale(0.93,1)" fill="#000" stroke="#000" stroke-width="0.25" font-size="10">20 Jul 16:00</text>
<rect x="631" y="817" width="1" height="3" fill="#000"/>
<text transform="translate(630,829) scale(0.93,1)" fill="#000" stroke="#000" stroke-width="0.25" font-size="10">21 Jul 08:00</text>
<rect x="695" y="817" width="1" height="3" fill="#000"/>
<text transform="translate(694,829) scale(0.93,1)" fill="#000" stroke="#000" stroke-width="0.25" font-size="10">22 Jul 00:00</text>
<rect x="759" y="817" width="1" height="3" fill="#000"/>
<text transform="translate(758,829) scale(0.93,1)" fill="#000" stroke="#000" stroke-width="0.25" font-size="10">22 Jul 16:00</text>
<rect x="823" y="817" width="1" height="3" fill="#000"/>
<text transform="translate(822,829) scale(0.93,1)" fill="#000" stroke="#000" stroke-width="0.25" font-size="10">25 Jul 08:00</text>
<rect x="887" y="817" width="1" height="3" fill="#000"/>
<text transform="translate(886,829) scale(0.93,1)" fill="#000" stroke="#000" stroke-width="0.25" font-size="10">26 Jul 00:00</text>
<rect x="951" y="817" width="1" height="3" fill="#000"/>
<text transform="translate(950,829) scale(0.93,1)" fill="#000" stroke="#000" stroke-width="0.25" font-size="10">26 Jul 16:00</text>
<rect x="1015" y="817" width="1" height="3" fill="#000"/>
<text transform="translate(1014,829) scale(0.93,1)" fill="#000" stroke="#000" stroke-width="0.25" font-size="10">27 Jul 08:00</text>
<rect x="1079" y="817" width="1" height="3" fill="#000"/>
<text transform="translate(1078,829) scale(0.93,1)" fill="#000" stroke="#000" stroke-width="0.25" font-size="10">28 Jul 00:00</text>
<rect x="1143" y="817" width="1" height="3" fill="#000"/>
<text transform="translate(1142,829) scale(0.93,1)" fill="#000" stroke="#000" stroke-width="0.25" font-size="10">28 Jul 16:00</text>
<rect x="1207" y="817" width="1" height="3" fill="#000"/>
<text transform="translate(1206,829) scale(0.93,1)" fill="#000" stroke="#000" stroke-width="0.25" font-size="10">29 Jul 08:00</text>
<defs><pattern id="chk" width="2" height="2" patternUnits="userSpaceOnUse"><rect width="2" height="2" fill="#f4f4f4"/><rect width="1" height="1" fill="#ffffff"/><rect x="1" y="1" width="1" height="1" fill="#ffffff"/></pattern><linearGradient id="gold" x1="0" y1="0" x2="1" y2="1"><stop offset="0" stop-color="#ffe870"/><stop offset="0.5" stop-color="#e8b820"/><stop offset="1" stop-color="#c08a18"/></linearGradient><linearGradient id="cloud" x1="0" y1="0" x2="0" y2="1"><stop offset="0" stop-color="#ffffff"/><stop offset="1" stop-color="#b8c4dc"/></linearGradient><linearGradient id="lgreen" x1="0" y1="0" x2="0" y2="1"><stop offset="0" stop-color="#90ff90"/><stop offset="1" stop-color="#20d030"/></linearGradient><radialGradient id="badge" cx="0.45" cy="0.35" r="0.7"><stop offset="0" stop-color="#f06040"/><stop offset="1" stop-color="#d02010"/></radialGradient><radialGradient id="lens" cx="0.4" cy="0.35" r="0.7"><stop offset="0" stop-color="#ffffff"/><stop offset="1" stop-color="#b8dcf4"/></radialGradient><linearGradient id="clock" x1="0" y1="0" x2="0" y2="1"><stop offset="0" stop-color="#3aa0f8"/><stop offset="1" stop-color="#0048b0"/></linearGradient><linearGradient id="rg" x1="0" y1="0" x2="1" y2="0"><stop offset="0" stop-color="#3a68d0"/><stop offset="0.5" stop-color="#90b0d8"/><stop offset="1" stop-color="#3a9040"/></linearGradient><linearGradient id="plusg" x1="0" y1="0" x2="0" y2="1"><stop offset="0" stop-color="#70ff70"/><stop offset="1" stop-color="#10c818"/></linearGradient></defs>
<rect x="33" y="0" width="1" height="20" fill="#a8a8a8"/>
<rect x="0" y="19" width="34" height="1" fill="#a8a8a8"/>
<text x="-9.6" y="11.6" fill="#000" font-size="12.5" stroke="#000" stroke-width="0.15">新订单</text>
<g shape-rendering="auto">
<path d="M45.8,2.3 L55.4,9.6 L55.6,11.2 L48.4,16.6 L46.8,16.4 L40.3,11.8 L40.2,10.6 Q42.6,8.6 43.5,6.4 Z" fill="#c8901c" stroke="#9a6212" stroke-width="0.9"/>
<path d="M45.9,3.2 L54.6,9.8 L48,15 L41,10.4 Q43.3,8.4 44.3,6.4 Z" fill="url(#gold)"/>
<path d="M41.2,11.2 L47.8,15.6" fill="none" stroke="#f8e8a8" stroke-width="1.1"/>
<path d="M48.6,15.6 L55,10.6" fill="none" stroke="#f0e0b0" stroke-width="0.9" stroke-dasharray="1,0.6"/>
<path d="M70.1,1.2 L79.8,1.2 L81.1,3.2 L81.1,10.5 L70.1,10.5 Z" fill="#1898f4" stroke="#1070d8" stroke-width="0.6"/>
<path d="M70.1,1.6 L73.3,3.9 L73.3,10.5 L70.1,10.5 Z" fill="#0a7ee6"/>
<path d="M73.3,3.9 L81,3.6 L81,10.5 L73.3,10.5 Z" fill="#20a4f8"/>
<path d="M70.6,1.9 L73.3,4.1 L73.3,9.8" fill="none" stroke="#d8f2ff" stroke-width="0.8"/>
<rect x="75.2" y="6.1" width="4.5" height="1.1" fill="#f0f8ff"/>
<path d="M69.4,16.5 Q67.5,16.1 68.2,13.7 Q68.7,11.9 70.7,11.8 Q71.1,10.3 73.1,10.4 Q74.3,8.6 76.4,8.8 Q78.6,8.8 79.4,11 Q80.4,9.8 82,10.2 Q83.9,10.8 83.8,13 Q84.4,16.3 82,16.5 Z" fill="url(#cloud)" stroke="#3a5a96" stroke-width="0.9"/>
<circle cx="103.8" cy="8.8" r="7.6" fill="#f2f6f0"/>
<path d="M103.8,8.8 L111.4,8.8 A7.6,7.6 0 0 1 103.8,16.4 Z" fill="#b8dcb0"/>
<circle cx="103.8" cy="8.8" r="7" fill="none" stroke="url(#rg)" stroke-width="1.2"/>
<circle cx="103.8" cy="8.8" r="4.4" fill="none" stroke="url(#rg)" stroke-width="1.1"/>
<circle cx="103.8" cy="8.8" r="1.8" fill="#2a58c8"/>
<line x1="104.4" y1="9.2" x2="104.4" y2="16.5" stroke="#20a020" stroke-width="1.3"/>
<path d="M123.5,8.2 L138.7,8.2 L131.4,16.4 Z" fill="#f4dc50" stroke="#d0a020" stroke-width="0.8"/>
<path d="M123.6,6.2 Q123.8,3.6 127.2,4.2 Q128.5,1 131,1.2 Q134,1 134.6,4.2 Q138.6,3.4 138.4,6 Q137.6,8.4 131,8.2 Q124.4,8.4 123.6,6.2 Z" fill="#6ab8e8" stroke="#2a7cb0" stroke-width="0.9"/>
<path d="M127.4,5.2 Q131,6.4 134.6,5.2" fill="none" stroke="#2a7cb0" stroke-width="0.8"/>
<circle cx="135.6" cy="12.6" r="4" fill="#d82010" stroke="#b01000" stroke-width="0.6"/>
<rect x="134.3" y="11.4" width="2.6" height="2.5" fill="#fff"/>
</g>
<text x="143.8" y="12.2" fill="#000" font-size="12.3" stroke="#000" stroke-width="0.15">自动交易</text>
<rect x="199" y="0" width="1" height="21" fill="#a0a0a0"/>
<rect x="200" y="0" width="1" height="21" fill="#ffffff"/>
<rect x="203" y="1" width="3" height="1" fill="#8e8e8e"/>
<rect x="203" y="3" width="3" height="1" fill="#8e8e8e"/>
<rect x="203" y="5" width="3" height="1" fill="#8e8e8e"/>
<rect x="203" y="7" width="3" height="1" fill="#8e8e8e"/>
<rect x="203" y="9" width="3" height="1" fill="#8e8e8e"/>
<rect x="203" y="11" width="3" height="1" fill="#8e8e8e"/>
<rect x="203" y="13" width="3" height="1" fill="#8e8e8e"/>
<rect x="203" y="15" width="3" height="1" fill="#8e8e8e"/>
<rect x="203" y="17" width="3" height="1" fill="#8e8e8e"/>
<g stroke="#555" stroke-width="1.1" fill="none" shape-rendering="auto"><line x1="217.5" y1="3.2" x2="217.5" y2="16.9"/><line x1="215" y1="14.5" x2="228.8" y2="14.5"/><polyline points="216.0,4.9 217.5,3.2 219.0,4.9"/><polyline points="227.10000000000002,13.0 228.8,14.5 227.10000000000002,16.0"/></g>
<g stroke="#10a010" stroke-width="1.1" fill="none" shape-rendering="auto"><line x1="223.7" y1="4.2" x2="223.7" y2="12.6"/><line x1="223.7" y1="5.1" x2="226.2" y2="5.1"/><line x1="221.2" y1="11.6" x2="223.7" y2="11.6"/></g>
<rect x="237" y="0" width="1" height="19" fill="#8c8c8c"/>
<rect x="238" y="0" width="24" height="19" fill="url(#chk)"/>
<rect x="262" y="0" width="1" height="20" fill="#ffffff"/>
<rect x="237" y="19" width="26" height="1" fill="#ffffff"/>
<g stroke="#555" stroke-width="1.1" fill="none" shape-rendering="auto"><line x1="245.5" y1="3.2" x2="245.5" y2="16.9"/><line x1="243" y1="14.5" x2="256.8" y2="14.5"/><polyline points="244.0,4.9 245.5,3.2 247.0,4.9"/><polyline points="255.10000000000002,13.0 256.8,14.5 255.10000000000002,16.0"/></g>
<g shape-rendering="auto"><line x1="251.5" y1="1" x2="251.5" y2="12.8" stroke="#009000" stroke-width="1.1"/><rect x="249.5" y="3.5" width="4" height="7" fill="url(#lgreen)" stroke="#009000" stroke-width="1"/></g>
<g stroke="#555" stroke-width="1.1" fill="none" shape-rendering="auto"><line x1="273.4" y1="3.2" x2="273.4" y2="16.9"/><line x1="271" y1="14.5" x2="284.8" y2="14.5"/><polyline points="271.9,4.9 273.4,3.2 274.9,4.9"/><polyline points="283.1,13.0 284.8,14.5 283.1,16.0"/></g>
<path d="M272,11.6 Q275.5,7.5 278.3,6.2 Q280.5,6.5 283.7,10.2" fill="none" stroke="#30a030" stroke-width="1" shape-rendering="auto"/>
<rect x="294" y="0" width="1" height="19" fill="#a0a0a0"/>
<g shape-rendering="auto"><line x1="312.3" y1="10.8" x2="317.8" y2="16" stroke="#c09010" stroke-width="2.6"/><line x1="312.3" y1="10.8" x2="317.8" y2="16" stroke="#f0d060" stroke-width="1.2"/><circle cx="308.8" cy="6.9" r="5.5" fill="url(#lens)" stroke="#3a78c8" stroke-width="1"/><rect x="305.8" y="6.2" width="6" height="1.6" fill="#4a88b8"/><rect x="308.0" y="3.9" width="1.6" height="6" fill="#4a88b8"/></g>
<g shape-rendering="auto"><line x1="340.5" y1="10.8" x2="346" y2="16" stroke="#c09010" stroke-width="2.6"/><line x1="340.5" y1="10.8" x2="346" y2="16" stroke="#f0d060" stroke-width="1.2"/><circle cx="337" cy="6.9" r="5.5" fill="url(#lens)" stroke="#3a78c8" stroke-width="1"/><rect x="334" y="6.2" width="6" height="1.6" fill="#4a88b8"/></g>
<rect x="359" y="1" width="8" height="8" fill="#30a020"/>
<rect x="360" y="4" width="6" height="4" fill="#ffffff"/>
<rect x="361" y="5" width="4" height="1" fill="#c0e0c0"/>
<rect x="367" y="1" width="8" height="8" fill="#2050d0"/>
<rect x="368" y="4" width="6" height="4" fill="#ffffff"/>
<rect x="369" y="5" width="4" height="1" fill="#c0e0c0"/>
<rect x="359" y="9" width="8" height="8" fill="#2050d0"/>
<rect x="360" y="12" width="6" height="4" fill="#ffffff"/>
<rect x="361" y="13" width="4" height="1" fill="#c0e0c0"/>
<rect x="367" y="9" width="8" height="8" fill="#30a020"/>
<rect x="368" y="12" width="6" height="4" fill="#ffffff"/>
<rect x="369" y="13" width="4" height="1" fill="#c0e0c0"/>
<rect x="384" y="0" width="1" height="19" fill="#a0a0a0"/>
<rect x="389" y="0" width="1" height="19" fill="#8c8c8c"/>
<rect x="390" y="0" width="23" height="19" fill="url(#chk)"/>
<rect x="413" y="0" width="1" height="20" fill="#ffffff"/>
<rect x="389" y="19" width="25" height="1" fill="#ffffff"/>
<g stroke="#555" stroke-width="1.1" fill="none" shape-rendering="auto"><line x1="397.5" y1="3.2" x2="397.5" y2="16.9"/><line x1="395" y1="14.5" x2="408.8" y2="14.5"/><polyline points="396.0,4.9 397.5,3.2 399.0,4.9"/><polyline points="407.1,13.0 408.8,14.5 407.1,16.0"/></g>
<polygon points="402,5.5 406,8.5 402,11.6" fill="#40d040" stroke="#109010" stroke-width="0.8" shape-rendering="auto"/>
<rect x="417" y="0" width="1" height="19" fill="#a0a0a0"/>
<rect x="418" y="0" width="1" height="19" fill="#8c8c8c"/>
<rect x="419" y="0" width="23" height="19" fill="url(#chk)"/>
<rect x="442" y="0" width="1" height="20" fill="#ffffff"/>
<rect x="418" y="19" width="25" height="1" fill="#ffffff"/>
<g stroke="#555" stroke-width="1.1" fill="none" shape-rendering="auto"><line x1="425.4" y1="3.2" x2="425.4" y2="16.9"/><line x1="423" y1="14.5" x2="436.5" y2="14.5"/><polyline points="423.9,4.9 425.4,3.2 426.9,4.9"/><polyline points="434.8,13.0 436.5,14.5 434.8,16.0"/></g>
<g shape-rendering="auto"><line x1="431.5" y1="3.3" x2="431.5" y2="12.7" stroke="#1878c0" stroke-width="1.2"/><line x1="432.5" y1="8.6" x2="437" y2="8.6" stroke="#e05010" stroke-width="1.2"/><polyline points="434.5,6.4 432.3,8.6 434.5,10.8" fill="none" stroke="#e05010" stroke-width="1.2"/></g>
<rect x="446" y="0" width="1" height="19" fill="#a0a0a0"/>
<g shape-rendering="auto"><path d="M456.3,1.6 L464.6,1.6 L467.6,4.6 L467.6,14.4 L456.3,14.4 Z" fill="#fcfcfc" stroke="#808080" stroke-width="0.9"/><path d="M464.6,1.6 L464.6,4.6 L467.6,4.6" fill="#e8e8e8" stroke="#909090" stroke-width="0.6"/><path d="M460.6,4.2 Q459,4.4 459.2,6.5 L459.2,8 Q458.6,8.6 459.2,9.2 L459.2,11.2" fill="none" stroke="#504838" stroke-width="0.8"/><path d="M464.1,7.3 L467.9,7.3 L467.9,11.1 L471.8,11.1 L471.8,14.9 L467.9,14.9 L467.9,18.7 L464.1,18.7 L464.1,14.9 L460.2,14.9 L460.2,11.1 L464.1,11.1 Z" fill="url(#plusg)" stroke="#10a010" stroke-width="0.9"/></g>
<polygon points="478,8.2 483,8.2 480.5,11" fill="#000" shape-rendering="auto"/>
<g shape-rendering="auto"><circle cx="502" cy="9" r="7.8" fill="url(#clock)"/><circle cx="502" cy="9" r="5.7" fill="#f2f4f6"/><g fill="#909090"><circle cx="506.60" cy="9.00" r="0.4"/><circle cx="505.98" cy="11.30" r="0.4"/><circle cx="504.30" cy="12.98" r="0.4"/><circle cx="502.00" cy="13.60" r="0.4"/><circle cx="499.70" cy="12.98" r="0.4"/><circle cx="498.02" cy="11.30" r="0.4"/><circle cx="497.40" cy="9.00" r="0.4"/><circle cx="498.02" cy="6.70" r="0.4"/><circle cx="499.70" cy="5.02" r="0.4"/><circle cx="502.00" cy="4.40" r="0.4"/><circle cx="504.30" cy="5.02" r="0.4"/><circle cx="505.98" cy="6.70" r="0.4"/></g><polyline points="501.2,5.2 501.6,9 505,9.2" fill="none" stroke="#202020" stroke-width="1.1"/><line x1="501.5" y1="12" x2="503" y2="12" stroke="#80b0f0" stroke-width="0.8"/></g>
<polygon points="517,8.2 522,8.2 519.5,11" fill="#000" shape-rendering="auto"/>
<g shape-rendering="auto"><rect x="533.5" y="2.5" width="15.5" height="13" rx="1" fill="#ffffff" stroke="#3070c0" stroke-width="1"/><rect x="534" y="3" width="14.5" height="2" fill="#5090d8"/><line x1="534" y1="10.2" x2="548.5" y2="10.2" stroke="#3070c0" stroke-width="0.8"/><polyline points="535,8.5 537.5,7.7 539.5,7 541,7.6 543,6.8 545,7.4 547,6.2" fill="none" stroke="#a02010" stroke-width="1"/><polyline points="535,13.4 537,12.8 539,13.4 541,12.4 543,11.4 545,13 547,13.6" fill="none" stroke="#10a010" stroke-width="1"/></g>
<polygon points="556,8.2 561,8.2 558.5,11" fill="#000" shape-rendering="auto"/>
<rect x="567" y="0" width="1" height="21" fill="#a0a0a0"/>
<rect x="568" y="0" width="1" height="21" fill="#ffffff"/>
<rect x="571" y="1" width="3" height="1" fill="#8e8e8e"/>
<rect x="571" y="3" width="3" height="1" fill="#8e8e8e"/>
<rect x="571" y="5" width="3" height="1" fill="#8e8e8e"/>
<rect x="571" y="7" width="3" height="1" fill="#8e8e8e"/>
<rect x="571" y="9" width="3" height="1" fill="#8e8e8e"/>
<rect x="571" y="11" width="3" height="1" fill="#8e8e8e"/>
<rect x="571" y="13" width="3" height="1" fill="#8e8e8e"/>
<rect x="571" y="15" width="3" height="1" fill="#8e8e8e"/>
<rect x="571" y="17" width="3" height="1" fill="#8e8e8e"/>
<rect x="577" y="0" width="1" height="19" fill="#8c8c8c"/>
<rect x="578" y="0" width="24" height="19" fill="url(#chk)"/>
<rect x="602" y="0" width="1" height="20" fill="#ffffff"/>
<rect x="577" y="19" width="26" height="1" fill="#ffffff"/>
<polygon points="585.2,2.4 593,9.2 589.8,9.6 591.8,14.2 590,15 588,10.5 585.2,12.6" fill="#505050" shape-rendering="auto"/>
<rect x="610" y="9" width="6" height="1" fill="#505050"/>
<rect x="619" y="9" width="6" height="1" fill="#505050"/>
<rect x="617" y="2" width="1" height="6" fill="#505050"/>
<rect x="617" y="11" width="1" height="6" fill="#505050"/>
<rect x="617" y="9" width="1" height="1" fill="#808080"/>
<rect x="634" y="0" width="1" height="19" fill="#a0a0a0"/>
<rect x="651" y="3" width="1" height="13" fill="#3c3c3c"/>
<rect x="674" y="9" width="12" height="1" fill="#3c3c3c"/>
<line x1="702" y1="15.8" x2="713.8" y2="3.8" stroke="#3c3c3c" stroke-width="1.1" shape-rendering="auto"/>
<g fill="none" shape-rendering="auto"><line x1="727.8" y1="10.3" x2="735.5" y2="3.4" stroke="#707070" stroke-width="0.9" stroke-dasharray="1.2,0.6"/><line x1="733.1" y1="15.6" x2="741.9" y2="7.5" stroke="#707070" stroke-width="0.9" stroke-dasharray="1.2,0.6"/><line x1="729.2" y1="13.2" x2="741" y2="4.6" stroke="#404040" stroke-width="0.9"/><path d="M730.6,8.2 Q730,12 730.6,15.6 M733.8,7.2 Q733.2,10 733.8,12.6 M736.9,5.3 Q736.3,8.5 736.9,11.5 M739.6,1.2 Q739.2,5 740.4,8.2" stroke="#383838" stroke-width="1.1"/></g>
<text x="738.6" y="17.9" fill="#383838" font-size="7" font-weight="bold">E</text>
<rect x="757" y="2" width="1" height="1" fill="#3c3c3c"/>
<rect x="759" y="2" width="1" height="1" fill="#3c3c3c"/>
<rect x="761" y="2" width="1" height="1" fill="#3c3c3c"/>
<rect x="763" y="2" width="1" height="1" fill="#3c3c3c"/>
<rect x="765" y="2" width="1" height="1" fill="#3c3c3c"/>
<rect x="767" y="2" width="1" height="1" fill="#3c3c3c"/>
<rect x="769" y="2" width="1" height="1" fill="#3c3c3c"/>
<rect x="757" y="5" width="1" height="1" fill="#3c3c3c"/>
<rect x="759" y="5" width="1" height="1" fill="#3c3c3c"/>
<rect x="761" y="5" width="1" height="1" fill="#3c3c3c"/>
<rect x="763" y="5" width="1" height="1" fill="#3c3c3c"/>
<rect x="765" y="5" width="1" height="1" fill="#3c3c3c"/>
<rect x="767" y="5" width="1" height="1" fill="#3c3c3c"/>
<rect x="769" y="5" width="1" height="1" fill="#3c3c3c"/>
<rect x="757" y="9" width="1" height="1" fill="#3c3c3c"/>
<rect x="759" y="9" width="1" height="1" fill="#3c3c3c"/>
<rect x="761" y="9" width="1" height="1" fill="#3c3c3c"/>
<rect x="763" y="9" width="1" height="1" fill="#3c3c3c"/>
<rect x="765" y="9" width="1" height="1" fill="#3c3c3c"/>
<rect x="767" y="9" width="1" height="1" fill="#3c3c3c"/>
<rect x="769" y="9" width="1" height="1" fill="#3c3c3c"/>
<rect x="757" y="13" width="1" height="1" fill="#3c3c3c"/>
<rect x="759" y="13" width="1" height="1" fill="#3c3c3c"/>
<rect x="761" y="13" width="1" height="1" fill="#3c3c3c"/>
<rect x="763" y="13" width="1" height="1" fill="#3c3c3c"/>
<rect x="765" y="13" width="1" height="1" fill="#3c3c3c"/>
<text x="766.5" y="17.8" fill="#3c3c3c" font-size="6.5" font-weight="bold">F</text>
<text x="787.6" y="13.9" fill="#505050" font-size="12.5">A</text>
<rect x="814" y="2" width="1" height="1" fill="#3c3c3c"/>
<rect x="814" y="15" width="1" height="1" fill="#3c3c3c"/>
<rect x="816" y="2" width="1" height="1" fill="#3c3c3c"/>
<rect x="816" y="15" width="1" height="1" fill="#3c3c3c"/>
<rect x="818" y="2" width="1" height="1" fill="#3c3c3c"/>
<rect x="818" y="15" width="1" height="1" fill="#3c3c3c"/>
<rect x="820" y="2" width="1" height="1" fill="#3c3c3c"/>
<rect x="820" y="15" width="1" height="1" fill="#3c3c3c"/>
<rect x="822" y="2" width="1" height="1" fill="#3c3c3c"/>
<rect x="822" y="15" width="1" height="1" fill="#3c3c3c"/>
<rect x="824" y="2" width="1" height="1" fill="#3c3c3c"/>
<rect x="824" y="15" width="1" height="1" fill="#3c3c3c"/>
<rect x="826" y="2" width="1" height="1" fill="#3c3c3c"/>
<rect x="826" y="15" width="1" height="1" fill="#3c3c3c"/>
<rect x="814" y="2" width="1" height="1" fill="#3c3c3c"/>
<rect x="826" y="2" width="1" height="1" fill="#3c3c3c"/>
<rect x="814" y="4" width="1" height="1" fill="#3c3c3c"/>
<rect x="826" y="4" width="1" height="1" fill="#3c3c3c"/>
<rect x="814" y="6" width="1" height="1" fill="#3c3c3c"/>
<rect x="826" y="6" width="1" height="1" fill="#3c3c3c"/>
<rect x="814" y="8" width="1" height="1" fill="#3c3c3c"/>
<rect x="826" y="8" width="1" height="1" fill="#3c3c3c"/>
<rect x="814" y="10" width="1" height="1" fill="#3c3c3c"/>
<rect x="826" y="10" width="1" height="1" fill="#3c3c3c"/>
<rect x="814" y="12" width="1" height="1" fill="#3c3c3c"/>
<rect x="826" y="12" width="1" height="1" fill="#3c3c3c"/>
<rect x="814" y="14" width="1" height="1" fill="#3c3c3c"/>
<rect x="826" y="14" width="1" height="1" fill="#3c3c3c"/>
<rect x="816" y="6" width="8" height="1.5" fill="#505050"/>
<rect x="819.3" y="6" width="1.6" height="7.7" fill="#505050"/>
<g shape-rendering="auto" fill="#404040"><polygon points="841,5.5 844.5,2.5 848,5.5 844.5,7"/><polyline points="843.5,9 846,11.2 850.5,6.5" fill="none" stroke="#404040" stroke-width="1.2"/><polygon points="848.5,12.5 852,15.5 855.5,12.5 852,11"/></g>
<polygon points="862,8.2 867,8.2 864.5,11" fill="#000" shape-rendering="auto"/>
<rect x="873" y="0" width="1" height="21" fill="#a0a0a0"/>
<rect x="874" y="0" width="1" height="21" fill="#ffffff"/>
<rect x="877" y="1" width="3" height="1" fill="#8e8e8e"/>
<rect x="877" y="3" width="3" height="1" fill="#8e8e8e"/>
<rect x="877" y="5" width="3" height="1" fill="#8e8e8e"/>
<rect x="877" y="7" width="3" height="1" fill="#8e8e8e"/>
<rect x="877" y="9" width="3" height="1" fill="#8e8e8e"/>
<rect x="877" y="11" width="3" height="1" fill="#8e8e8e"/>
<rect x="877" y="13" width="3" height="1" fill="#8e8e8e"/>
<rect x="877" y="15" width="3" height="1" fill="#8e8e8e"/>
<rect x="877" y="17" width="3" height="1" fill="#8e8e8e"/>
<rect x="1023" y="0" width="1" height="19" fill="#8c8c8c"/>
<rect x="1024" y="0" width="24" height="19" fill="url(#chk)"/>
<rect x="1048" y="0" width="1" height="20" fill="#ffffff"/>
<rect x="1023" y="19" width="26" height="1" fill="#ffffff"/>
<text x="888.3" y="13.2" fill="#3c3c3c" font-size="10">M1</text>
<text x="916.4" y="13.2" fill="#3c3c3c" font-size="10">M5</text>
<text x="942.6" y="13.2" fill="#3c3c3c" font-size="10">M15</text>
<text x="970.4" y="13.2" fill="#3c3c3c" font-size="10">M30</text>
<text x="1001.3" y="13.2" fill="#3c3c3c" font-size="10">H1</text>
<text x="1028.1" y="13.2" fill="#3c3c3c" font-size="10">H4</text>
<text x="1057.4" y="13.2" fill="#3c3c3c" font-size="10">D1</text>
<text x="1085" y="13.2" fill="#3c3c3c" font-size="10">W1</text>
<text x="1111" y="13.2" fill="#3c3c3c" font-size="10">MN</text>
<rect x="1134" y="0" width="1" height="21" fill="#a0a0a0"/>
<rect x="1135" y="0" width="1" height="21" fill="#ffffff"/>
<g shape-rendering="auto"><circle cx="1604.5" cy="6.4" r="3.6" fill="#f4f6ff" stroke="#2a64d0" stroke-width="1.3"/><line x1="1601.6" y1="9.3" x2="1597.6" y2="13.6" stroke="#2a64d0" stroke-width="2"/></g>
<g shape-rendering="auto"><ellipse cx="1626.5" cy="11.5" rx="5.2" ry="4.5" fill="#e4e6ee" stroke="#b0b0b8" stroke-width="0.8"/><polygon points="1624,15 1624.5,17.5 1627,15.5" fill="#d0d2da"/><circle cx="1635.4" cy="6.8" r="8.2" fill="url(#badge)"/></g>
<text x="1635.4" y="11.2" fill="#ffffff" font-size="12" text-anchor="middle" style='font-family:"Liberation Serif", serif'>1</text>
</svg>
</body></html>
